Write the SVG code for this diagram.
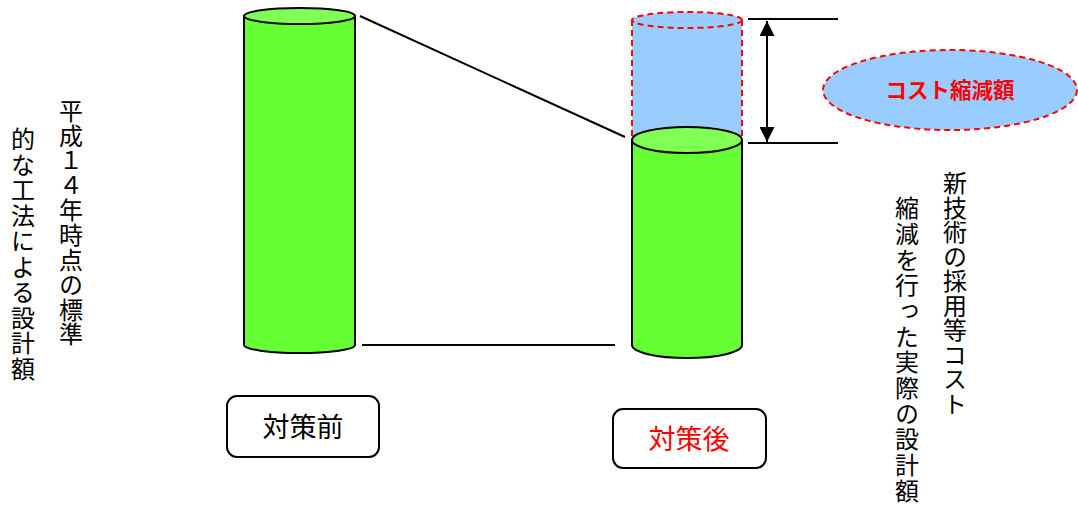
<svg xmlns="http://www.w3.org/2000/svg" width="1078" height="508" viewBox="0 0 1078 508">
<style>
text{font-family:"Noto Sans CJK JP","Noto Sans CJK SC",sans-serif;}
.vt{font-size:24px;fill:#000;writing-mode:vertical-rl;text-anchor:start;}
.body{fill:#66ff33;stroke:#000;stroke-width:2;}
.top{fill:#80ff55;stroke:#000;stroke-width:2;}
.ln{stroke:#000;stroke-width:2;fill:none;}
.dash{stroke:#ff0000;stroke-width:2;stroke-dasharray:6,4;}
.box{fill:#fff;stroke:#000;stroke-width:2;}
</style>
<defs>
<marker id="ah" viewBox="0 0 10 10" refX="10" refY="5" markerWidth="7.5" markerHeight="7.5" orient="auto-start-reverse" markerUnits="strokeWidth">
<path d="M0,0 L10,5 L0,10 Z" fill="#000"/>
</marker>
</defs>
<g id="connectors">
<line class="ln" x1="360" y1="16" x2="625" y2="137"/>
<line class="ln" x1="362" y1="345" x2="615" y2="345"/>
<line class="ln" x1="748" y1="19" x2="838" y2="19"/>
<line class="ln" x1="748" y1="143" x2="838" y2="143"/>
<line class="ln" x1="767" y1="21" x2="767" y2="142" marker-start="url(#ah)" marker-end="url(#ah)"/>
</g>
<g id="cyl-before">
<path class="body" d="M244,16 L244,345 A55.5,8 0 0 0 355,345 L355,16 Z"/>
<ellipse class="top" cx="299.5" cy="16" rx="55.5" ry="8"/>
</g>
<g id="cyl-reduced">
<path d="M632,20 L632,140 L742,140 L742,20 Z" fill="#99ccff"/>
<ellipse cx="687" cy="20" rx="55" ry="8" fill="#99ccff"/>
<ellipse class="dash" cx="687" cy="20" rx="55" ry="8" fill="none"/>
<line class="dash" x1="632" y1="20" x2="632" y2="140"/>
<line class="dash" x1="742" y1="20" x2="742" y2="140"/>
</g>
<g id="cyl-after">
<path class="body" d="M632,140 L632,345 A55,13 0 0 0 742,345 L742,140 Z"/>
<ellipse class="top" cx="687" cy="140" rx="55" ry="13"/>
</g>
<g id="reduction-label">
<ellipse cx="950" cy="90" rx="127" ry="40" fill="#99ccff" stroke="#ff0000" stroke-width="2" stroke-dasharray="6,4"/>
<text x="950" y="97.5" font-size="21.5" font-weight="bold" fill="#ff0000" text-anchor="middle">コスト縮減額</text>
</g>
<g id="label-before">
<rect class="box" x="227" y="396" width="152" height="61" rx="10"/>
<text x="303" y="437" font-size="27" fill="#000" text-anchor="middle">対策前</text>
</g>
<g id="label-after">
<rect class="box" x="613" y="409" width="153" height="59" rx="10"/>
<text x="689" y="449" font-size="27" fill="#ff0000" text-anchor="middle">対策後</text>
</g>
<g id="text-left">
<text class="vt" x="71" y="99" style="letter-spacing:0.8px">平成１４年時点の標準</text>
<text class="vt" x="23" y="127" style="letter-spacing:1.5px">的な工法による設計額</text>
</g>
<g id="text-right">
<text class="vt" x="955" y="171" style="letter-spacing:0.5px">新技術の採用等コスト</text>
<text class="vt" x="907" y="196" style="letter-spacing:1.7px">縮減を行った実際の設計額</text>
</g>
</svg>
